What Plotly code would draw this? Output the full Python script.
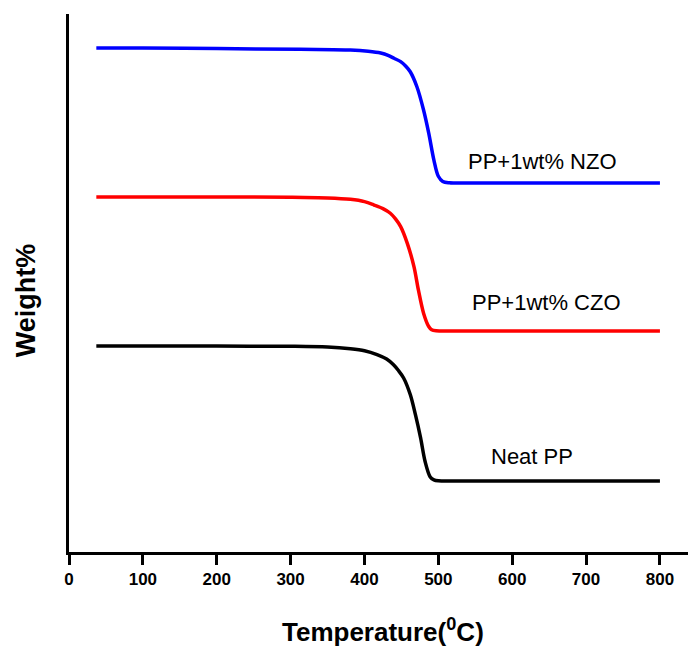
import plotly.graph_objects as go

# ---- data ----
neat_T = [37, 100, 200, 300, 350, 381, 400, 417, 430, 439, 446, 453, 462, 469, 476, 482, 489, 494, 500, 530, 600, 700, 800]
neat_W = [100, 100, 99.9, 99.8, 99.3, 98.0, 96.5, 93.6, 90.3, 86.2, 81.8, 76.3, 64.0, 49.1, 31.9, 14.6, 3.0, 0.8, 0.1, 0.0, 0.0, 0.0, 0.0]

czo_T = [37, 100, 200, 300, 350, 381, 400, 413, 425, 435, 442, 449, 458, 467, 473, 480, 487, 491, 497, 530, 600, 700, 800]
czo_W = [100, 100, 100, 99.8, 99.3, 98.2, 96.5, 94.0, 91.3, 87.9, 83.7, 78.0, 65.6, 48.4, 31.1, 13.9, 4.0, 1.6, 0.8, 0.7, 0.7, 0.7, 0.7]

nzo_T = [37, 100, 200, 313, 381, 405, 422, 432, 440, 449, 456, 462, 471, 480, 487, 494, 500, 506, 515, 540, 600, 700, 800]
nzo_W = [100, 100, 99.6, 99.0, 98.5, 97.6, 96.3, 94.6, 92.4, 89.9, 86.5, 82.4, 71.3, 54.1, 37.0, 17.0, 5.0, 1.2, 0.2, 0.0, 0.0, 0.0, 0.0]

# vertical stacking offsets of the curves (weight% units)
czo_offset = 110.4
nzo_offset = 220.7

series_names = ["Neat PP", "PP+1wt% CZO", "PP+1wt% NZO"]
x_ticks = [0, 100, 200, 300, 400, 500, 600, 700, 800]

FONT = "Arial, 'Liberation Sans', sans-serif"

fig = go.Figure()
for T, W, off, color in [
    (neat_T, neat_W, 0.0, "#000000"),
    (czo_T, czo_W, czo_offset, "#ff0000"),
    (nzo_T, nzo_W, nzo_offset, "#0000ff"),
]:
    fig.add_trace(go.Scatter(
        x=T, y=[w + off for w in W], mode="lines",
        line=dict(color=color, width=3.5, shape="spline", smoothing=0.9),
        showlegend=False, hoverinfo="skip",
    ))

# curve labels
label_pos = [(627, 18.1), (647, 131.9), (641, 236.3)]
for name, (lx, ly) in zip(series_names, label_pos):
    fig.add_annotation(x=lx, y=ly, xref="x", yref="y", text=name, showarrow=False,
                       font=dict(family=FONT, size=22, color="black"),
                       xanchor="center", yanchor="middle")

# axis titles
fig.add_annotation(x=-0.0695, y=0.468, xref="paper", yref="paper", text="<b>Weight%</b>",
                   showarrow=False, textangle=-90,
                   font=dict(family=FONT, size=27, color="black"),
                   xanchor="center", yanchor="middle")
fig.add_annotation(x=0.508, y=-0.145, xref="paper", yref="paper",
                   text="<b>Temperature(<sup>0</sup>C)</b>",
                   showarrow=False,
                   font=dict(family=FONT, size=26, color="black"),
                   xanchor="center", yanchor="middle")

fig.update_layout(
    width=688, height=646,
    margin=dict(l=69, r=0, t=14, b=94, autoexpand=False),
    paper_bgcolor="white", plot_bgcolor="white",
    font=dict(family=FONT, color="black"),
)
fig.update_xaxes(
    range=[0, 838], tickvals=x_ticks, ticktext=[f"<b>{v}</b>" for v in x_ticks],
    showline=True, linecolor="black", linewidth=3,
    ticks="outside", ticklen=10, tickwidth=3, tickcolor="black",
    tickfont=dict(family=FONT, size=17, color="black"),
    showgrid=False, zeroline=False, automargin=False,
)
fig.update_yaxes(
    range=[-52.6, 345.9], showticklabels=False,
    showline=True, linecolor="black", linewidth=3,
    ticks="", showgrid=False, zeroline=False, automargin=False,
)

fig.write_html("out.html", config={"displayModeBar": False},
               post_script="document.body.style.margin='0';document.body.style.padding='0';")
